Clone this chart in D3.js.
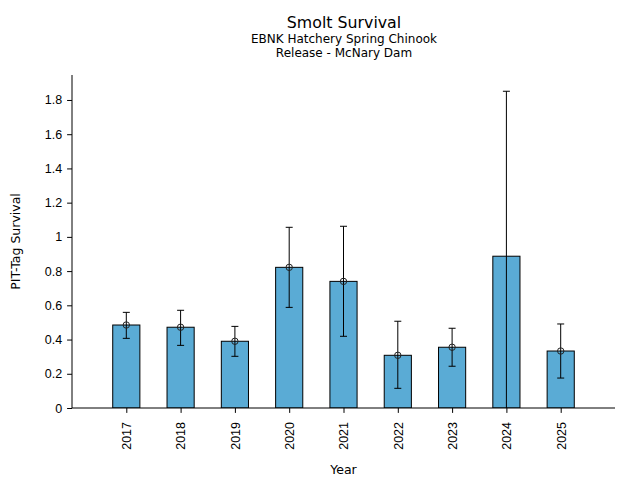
<!DOCTYPE html>
<html>
<head>
<meta charset="utf-8">
<script src="https://cdn.jsdelivr.net/npm/d3@7"></script>
<style>
  body { margin: 0; background: #fff; }
  svg { font-family: "DejaVu Sans", sans-serif; }
</style>
</head>
<body>
<svg width="640" height="480"></svg>
<script>
// values
var years = ["2017", "2018", "2019", "2020", "2021", "2022", "2023", "2024", "2025"];
var survival = [0.485, 0.472, 0.390, 0.822, 0.740, 0.308, 0.355, 0.887, 0.333];
var upper = [0.559, 0.571, 0.477, 1.056, 1.062, 0.507, 0.466, 1.851, 0.491];
var lower = [0.407, 0.366, 0.302, 0.588, 0.419, 0.115, 0.244, -0.05, 0.175];
var showMarker = [true, true, true, true, true, true, true, false, true];
var yTicks = [0, 0.2, 0.4, 0.6, 0.8, 1, 1.2, 1.4, 1.6, 1.8];

var config = { left: 72, right: 615, top: 75, bottom: 408 };

var data = years.map(function(yr, i) {
  return { year: yr, i: i, v: survival[i], hi: upper[i], lo: lower[i], mark: showMarker[i] };
});

var svg = d3.select("svg");

var x = d3.scaleLinear().domain([-1, years.length]).range([config.left, config.right]);
var y = d3.scaleLinear().domain([0, 1.946]).range([config.bottom, config.top]);
var barW = (x(1) - x(0)) * 0.5;

svg.append("defs").append("clipPath").attr("id", "plotclip")
  .append("rect")
  .attr("x", config.left).attr("y", config.top)
  .attr("width", config.right - config.left)
  .attr("height", config.bottom - config.top);

var plot = svg.append("g").attr("clip-path", "url(#plotclip)");

// bars
plot.selectAll("rect.bar")
  .data(data)
  .enter()
  .append("rect")
    .attr("class", "bar")
    .attr("x", function(d) { return x(d.i) - barW / 2; })
    .attr("y", function(d) { return y(d.v); })
    .attr("width", barW)
    .attr("height", function(d) { return y(0) - y(d.v); })
    .style("fill", "#5aabd5")
    .style("stroke", "#000")
    .style("stroke-width", 1);

// error bars
var err = plot.selectAll("g.err")
  .data(data)
  .enter()
  .append("g")
    .attr("class", "err")
    .style("stroke", "#000")
    .style("stroke-width", 1);

err.append("line")
  .attr("x1", function(d) { return x(d.i); })
  .attr("x2", function(d) { return x(d.i); })
  .attr("y1", function(d) { return y(d.lo); })
  .attr("y2", function(d) { return y(d.hi); });

err.append("line")
  .attr("x1", function(d) { return x(d.i) - 3.5; })
  .attr("x2", function(d) { return x(d.i) + 3.5; })
  .attr("y1", function(d) { return y(d.hi); })
  .attr("y2", function(d) { return y(d.hi); });

err.append("line")
  .attr("x1", function(d) { return x(d.i) - 3.5; })
  .attr("x2", function(d) { return x(d.i) + 3.5; })
  .attr("y1", function(d) { return y(d.lo); })
  .attr("y2", function(d) { return y(d.lo); });

// open circle markers
plot.selectAll("circle")
  .data(data.filter(function(d) { return d.mark; }))
  .enter()
  .append("circle")
    .attr("cx", function(d) { return x(d.i); })
    .attr("cy", function(d) { return y(d.v); })
    .attr("r", 3.2)
    .style("fill", "none")
    .style("stroke", "#222")
    .style("stroke-width", 1);

// axes
var yAxis = d3.axisLeft(y)
  .tickValues(yTicks)
  .tickSize(4.9)
  .tickPadding(5)
  .tickFormat(function(d) { return d3.format("")(+d.toFixed(1)); });

var gy = svg.append("g")
  .attr("transform", "translate(" + config.left + ",0)")
  .call(yAxis);
gy.select(".domain").attr("d", "M0," + config.bottom + "V" + config.top);

var xAxis = d3.axisBottom(x)
  .tickValues(d3.range(years.length))
  .tickSize(4.9)
  .tickPadding(3.5)
  .tickFormat(function(d) { return years[d]; });

var gx = svg.append("g")
  .attr("transform", "translate(0," + config.bottom + ")")
  .call(xAxis);
gx.select(".domain").attr("d", "M" + config.left + ",0H" + config.right);
gx.selectAll(".tick text")
  .attr("transform", "rotate(-90)")
  .attr("text-anchor", "end")
  .attr("x", -14)
  .attr("y", 0)
  .attr("dy", "0.35em");

svg.selectAll(".tick text").style("font-size", "12.5px").style("fill", "#000");
svg.selectAll(".domain, .tick line").style("stroke", "#000");

// labels
svg.append("text")
  .attr("x", (config.left + config.right) / 2)
  .attr("y", 474)
  .attr("text-anchor", "middle")
  .style("font-size", "12.5px")
  .text("Year");

svg.append("text")
  .attr("transform", "translate(20," + ((config.top + config.bottom) / 2) + ") rotate(-90)")
  .attr("text-anchor", "middle")
  .style("font-size", "12.5px")
  .text("PIT-Tag Survival");

svg.append("text")
  .attr("x", 344).attr("y", 28)
  .attr("text-anchor", "middle")
  .style("font-size", "15.8px")
  .text("Smolt Survival");

svg.append("text")
  .attr("x", 344).attr("y", 43)
  .attr("text-anchor", "middle")
  .style("font-size", "12px")
  .text("EBNK Hatchery Spring Chinook");

svg.append("text")
  .attr("x", 344).attr("y", 57)
  .attr("text-anchor", "middle")
  .style("font-size", "12px")
  .text("Release - McNary Dam");
</script>
</body>
</html>
